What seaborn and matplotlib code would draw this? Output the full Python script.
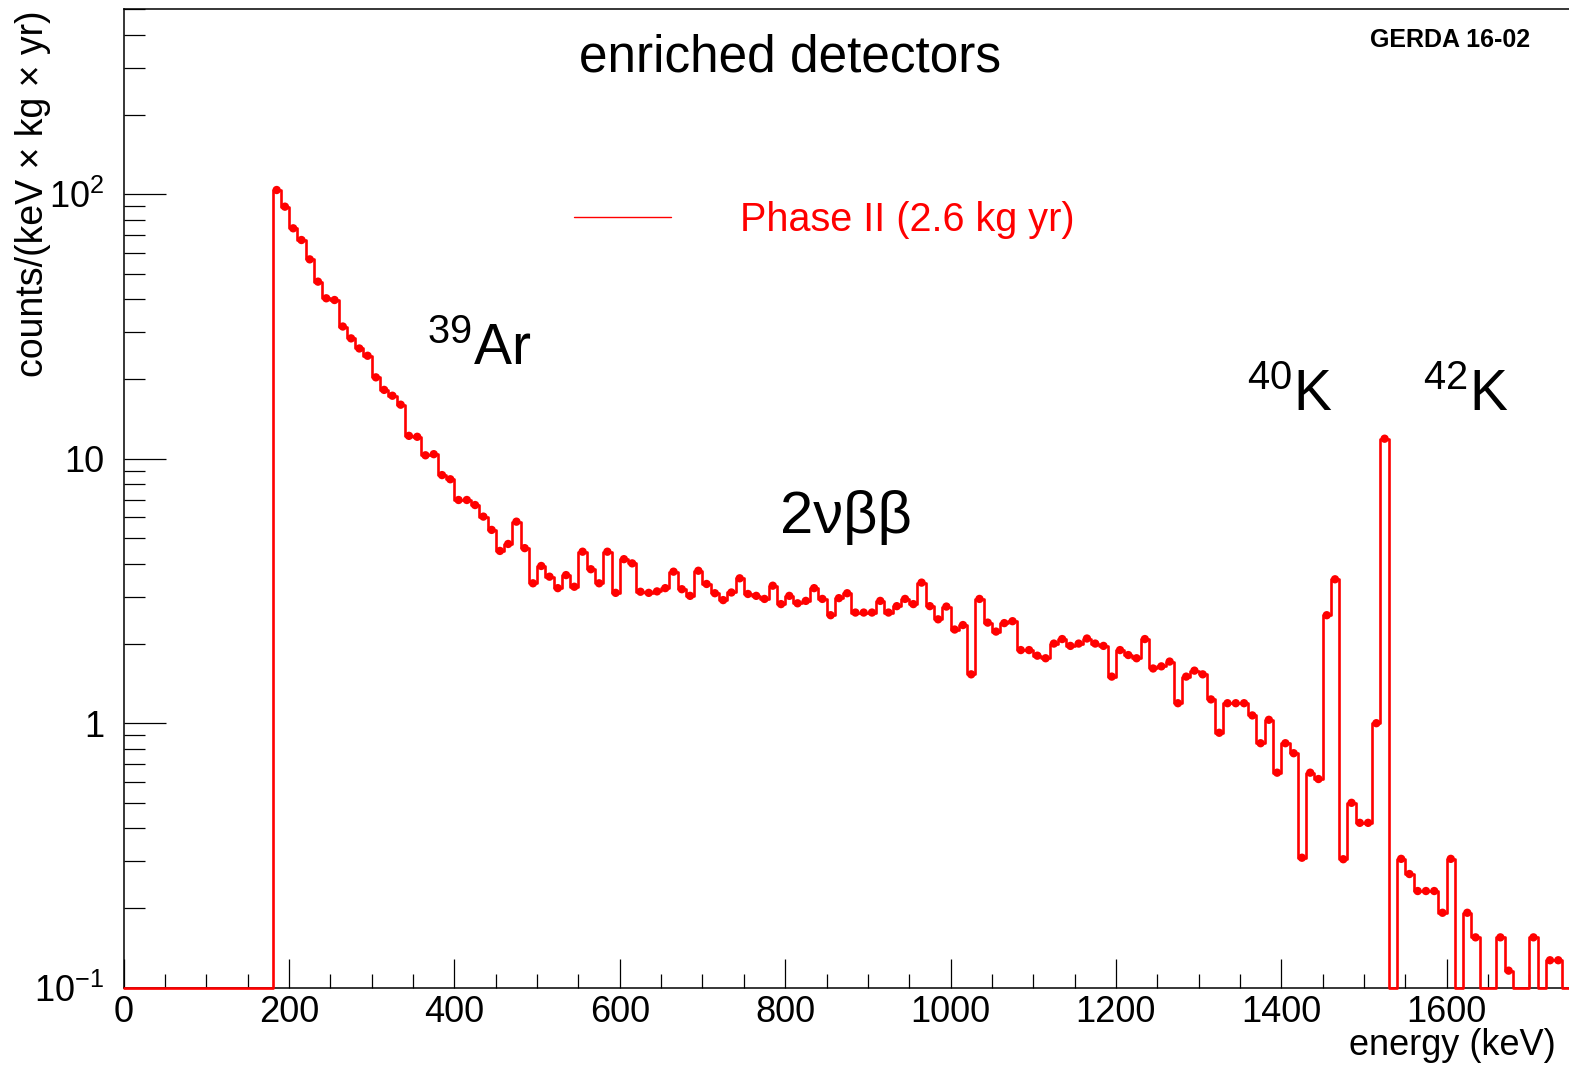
import numpy as np
import pandas as pd
import matplotlib
matplotlib.use("Agg")
import matplotlib.pyplot as plt
import seaborn as sns
from matplotlib.ticker import FixedLocator, FixedFormatter, LogLocator, MultipleLocator, NullFormatter
from matplotlib.lines import Line2D

# ---------------- data ----------------
bin_width_keV = 10
# lower edges of the 10 keV bins, 0 ... 1740 keV
bin_low_keV = [0, 10, 20, 30, 40, 50, 60, 70, 80, 90, 100, 110, 120, 130, 140, 150, 160, 170,
               180, 190, 200, 210, 220, 230, 240, 250, 260, 270, 280, 290, 300, 310, 320, 330,
               340, 350, 360, 370, 380, 390, 400, 410, 420, 430, 440, 450, 460, 470, 480, 490,
               500, 510, 520, 530, 540, 550, 560, 570, 580, 590, 600, 610, 620, 630, 640, 650,
               660, 670, 680, 690, 700, 710, 720, 730, 740, 750, 760, 770, 780, 790, 800, 810,
               820, 830, 840, 850, 860, 870, 880, 890, 900, 910, 920, 930, 940, 950, 960, 970,
               980, 990, 1000, 1010, 1020, 1030, 1040, 1050, 1060, 1070, 1080, 1090, 1100, 1110,
               1120, 1130, 1140, 1150, 1160, 1170, 1180, 1190, 1200, 1210, 1220, 1230, 1240, 1250,
               1260, 1270, 1280, 1290, 1300, 1310, 1320, 1330, 1340, 1350, 1360, 1370, 1380, 1390,
               1400, 1410, 1420, 1430, 1440, 1450, 1460, 1470, 1480, 1490, 1500, 1510, 1520, 1530,
               1540, 1550, 1560, 1570, 1580, 1590, 1600, 1610, 1620, 1630, 1640, 1650, 1660, 1670,
               1680, 1690, 1700, 1710, 1720, 1730, 1740]

# counts / (keV kg yr), Phase II enriched detectors
rate_phase2 = [0, 0, 0, 0, 0, 0, 0, 0, 0, 0, 0, 0, 0, 0, 0, 0, 0, 0,
               103.7, 89.7, 74.3, 67.1, 56.7, 46.7, 40.4, 39.8, 31.6, 28.5, 26.1, 24.5,
               20.3, 18.2, 17.3, 16.0, 12.2, 12.1, 10.3, 10.4, 8.67, 8.36,
               6.98, 6.98, 6.68, 6.04, 5.38, 4.48, 4.76, 5.78, 4.59, 3.38,
               3.93, 3.58, 3.24, 3.63, 3.28, 4.45, 3.82, 3.38, 4.45, 3.11,
               4.17, 4.02, 3.14, 3.11, 3.15, 3.24, 3.74, 3.21, 3.03, 3.77,
               3.36, 3.10, 2.92, 3.12, 3.53, 3.08, 3.03, 2.95, 3.31, 2.82,
               3.03, 2.84, 2.90, 3.24, 2.95, 2.56, 2.97, 3.10, 2.62, 2.62,
               2.62, 2.90, 2.62, 2.77, 2.95, 2.82, 3.40, 2.77, 2.47, 2.76,
               2.26, 2.35, 1.53, 2.95, 2.40, 2.22, 2.39, 2.43, 1.89, 1.89,
               1.80, 1.76, 2.00, 2.08, 1.96, 2.00, 2.09, 2.00, 1.96, 1.50,
               1.89, 1.81, 1.76, 2.08, 1.61, 1.64, 1.71, 1.19, 1.50, 1.58,
               1.53, 1.23, 0.92, 1.19, 1.19, 1.19, 1.07, 0.84, 1.03, 0.65,
               0.84, 0.77, 0.31, 0.65, 0.615, 2.56, 3.50, 0.306, 0.50, 0.42,
               0.42, 1.00, 11.9, 0,
               0.307, 0.269, 0.232, 0.232, 0.232, 0.192, 0.307, 0, 0.192, 0.155,
               0, 0, 0.155, 0.116, 0, 0, 0.155, 0, 0.127, 0.127, 0]

x_ticks = [0, 200, 400, 600, 800, 1000, 1200, 1400, 1600]
x_tick_labels = ["0", "200", "400", "600", "800", "1000", "1200", "1400", "1600"]
y_ticks = [0.1, 1, 10, 100]
y_tick_labels = [r"$\mathregular{10^{-1}}$", "1", "10", r"$\mathregular{10^{2}}$"]

# ---------------- style ----------------
sns.set_style("ticks")
plt.rcParams["font.family"] = ["Liberation Sans", "DejaVu Sans"]
plt.rcParams["mathtext.default"] = "regular"
plt.rcParams["mathtext.fontset"] = "custom"
plt.rcParams["mathtext.rm"] = "Liberation Sans"
plt.rcParams["axes.unicode_minus"] = False
plt.rcParams["axes.linewidth"] = 1.1
for key in ["text.color", "axes.labelcolor", "xtick.color", "ytick.color", "axes.edgecolor"]:
    plt.rcParams[key] = "black"

W, H = 1569, 1069
fig = plt.figure(figsize=(W / 100, H / 100), dpi=100)
x0, x1, ytop, ybot = 123.7, 1569.0, 9.3, 987.7
ax = fig.add_axes([x0 / W, 1 - ybot / H, (x1 - x0) / W, (ybot - ytop) / H])

YMIN, YMAX = 0.1, 500
red = "#ff0000"

edges = bin_low_keV + [bin_low_keV[-1] + bin_width_keV]
vals = np.array(rate_phase2, dtype=float)
# ROOT draws empty bins on the frame minimum
vals_line = np.where(vals > 0, vals, YMIN)
step_df = pd.DataFrame({"energy": edges, "rate": list(vals_line) + [vals_line[-1]]})
sns.lineplot(data=step_df, x="energy", y="rate", ax=ax, color=red, linewidth=1.9,
             drawstyle="steps-post", estimator=None, sort=False, clip_on=False, zorder=4)

centers = np.array(bin_low_keV) + bin_width_keV / 2
mask = vals > 0
pt_df = pd.DataFrame({"energy": centers[mask], "rate": vals[mask]})
sns.scatterplot(data=pt_df, x="energy", y="rate", ax=ax, color=red, s=36,
                edgecolor="none", zorder=5, clip_on=False)

ax.set_yscale("log")
ax.set_xlim(0, 1748)
ax.set_ylim(YMIN, YMAX)

ax.xaxis.set_major_locator(FixedLocator(x_ticks))
ax.xaxis.set_major_formatter(FixedFormatter(x_tick_labels))
ax.xaxis.set_minor_locator(MultipleLocator(50))
ax.yaxis.set_major_locator(FixedLocator(y_ticks))
ax.yaxis.set_major_formatter(FixedFormatter(y_tick_labels))
ax.yaxis.set_minor_locator(LogLocator(base=10, subs=np.arange(2, 10)))
ax.yaxis.set_minor_formatter(NullFormatter())

ax.tick_params(axis="x", which="major", direction="in", length=21, width=0.9,
               labelsize=26, pad=5, colors="black")
ax.tick_params(axis="x", which="minor", direction="in", length=10, width=0.9, colors="black")
ax.tick_params(axis="y", which="major", direction="in", length=30, width=0.9,
               labelsize=26, pad=14, colors="black")
ax.tick_params(axis="y", which="minor", direction="in", length=15, width=0.9, colors="black")

for side in ["left", "bottom", "top"]:
    ax.spines[side].set_visible(True)
    ax.spines[side].set_color("black")
ax.spines["right"].set_visible(False)
ax.set_xlabel("")
ax.set_ylabel("")
ax.grid(False)

# axis titles
fig.text(33 / W, 1 - 10 / H, "counts/(keV × kg × yr)", rotation=90, ha="center", va="top",
         fontsize=27, color="black")
fig.text(1556 / W, 1 - 1055 / H, "energy (keV)", ha="right", va="baseline", fontsize=26,
         color="black")

# headers
fig.text(790 / W, 1 - 72 / H, "enriched detectors", ha="center", va="baseline", fontsize=37,
         color="black")
fig.text(1530 / W, 1 - 47 / H, "GERDA 16-02", ha="right", va="baseline", fontsize=18,
         fontweight="bold", color="black")

# legend
fs_leg = 28.5
fs_px = fs_leg * 100 / 72
handle = Line2D([], [], color=red, linewidth=1.0)
leg = fig.legend([handle], ["Phase II (2.6 kg yr)"], loc="center left",
                 bbox_to_anchor=(574 / W, 1 - 220 / H), bbox_transform=fig.transFigure,
                 frameon=False, fontsize=fs_leg, labelcolor=red, borderpad=0,
                 borderaxespad=0, handlelength=97 / fs_px, handletextpad=69 / fs_px)

# peak labels
fs_lab = 41
fig.text(427 / W, 1 - 365 / H, r"$\mathregular{^{39}}$Ar", ha="left", va="baseline",
         fontsize=fs_lab, color="black")
fig.text(780 / W, 1 - 533 / H, "2νββ", ha="left", va="baseline", fontsize=43, color="black")
fig.text(1247 / W, 1 - 411 / H, r"$\mathregular{^{40}}$K", ha="left", va="baseline",
         fontsize=fs_lab, color="black")
fig.text(1423 / W, 1 - 411 / H, r"$\mathregular{^{42}}$K", ha="left", va="baseline",
         fontsize=fs_lab, color="black")

fig.savefig("out.png", dpi=100)
